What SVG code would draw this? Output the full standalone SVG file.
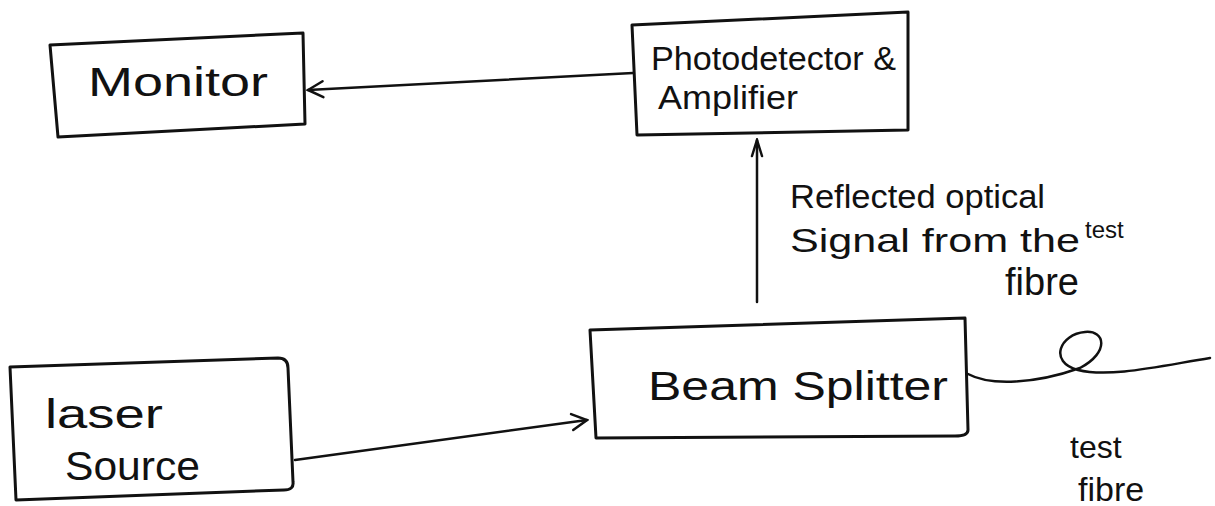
<svg xmlns="http://www.w3.org/2000/svg" width="1215" height="506" viewBox="0 0 1215 506">
<style>
.box{fill:none;stroke:#111;stroke-width:3;stroke-linejoin:round}
.ln{fill:none;stroke:#111;stroke-width:2.5;stroke-linecap:round}
.t{font-family:"Liberation Sans",Arial,sans-serif;fill:#111;font-size:40px}
.s{font-family:"Liberation Sans",Arial,sans-serif;fill:#111;font-size:34px}
</style>
<defs>
<marker id="ah" viewBox="0 0 20 20" refX="18" refY="10" markerWidth="20" markerHeight="20" markerUnits="userSpaceOnUse" orient="auto">
<path d="M3,2 L18,10 L3,18" fill="none" stroke="#111" stroke-width="2.5" stroke-linecap="round"/>
</marker>
<marker id="ahn" viewBox="0 0 20 20" refX="18" refY="10" markerWidth="20" markerHeight="20" markerUnits="userSpaceOnUse" orient="auto">
<path d="M2,5 L18,10 L2,15" fill="none" stroke="#111" stroke-width="2.5" stroke-linecap="round"/>
</marker>
</defs>
<rect width="1215" height="506" fill="#fff"/>
<g id="monitor">
<path class="box" d="M50,45 L303,33 L305,124 L58,137 Z"/>
<text class="t" x="88" y="96" textLength="180" lengthAdjust="spacingAndGlyphs">Monitor</text>
</g>
<g id="photodetector">
<path class="box" d="M632,25 L908,12 L908,130 L637,135 Z"/>
<text class="s" x="651" y="70" textLength="245" lengthAdjust="spacingAndGlyphs">Photodetector &amp;</text>
<text class="s" x="658" y="109" textLength="140" lengthAdjust="spacingAndGlyphs">Amplifier</text>
</g>
<g id="beamsplitter">
<path class="box" d="M590,330 L965,318 L968,430 Q968,436 955,436 L596,438 Z"/>
<text class="t" x="648" y="400" textLength="300" lengthAdjust="spacingAndGlyphs">Beam Splitter</text>
</g>
<g id="laser">
<path class="box" d="M10,367 L278,358 Q288,358 288,368 L293,482 Q294,490 284,490 L16,500 Z"/>
<text class="t" x="45" y="428" textLength="118" lengthAdjust="spacingAndGlyphs">laser</text>
<text class="t" x="65" y="480" textLength="135" lengthAdjust="spacingAndGlyphs">Source</text>
</g>
<g id="connectors">
<path class="ln" d="M633,73 L308,90" marker-end="url(#ah)"/>
<path class="ln" d="M295,460 L587,420" marker-end="url(#ah)"/>
<path class="ln" d="M757,302 L757,140" marker-end="url(#ahn)"/>
<path class="ln" d="M968,374 C990,386 1035,384 1080,368 C1110,352 1105,330 1085,332 C1060,334 1048,362 1078,370 C1110,378 1160,366 1210,358"/>
</g>
<g id="labels">
<text class="s" x="790" y="208" textLength="255" lengthAdjust="spacingAndGlyphs">Reflected optical</text>
<text class="s" x="790" y="252" textLength="290" lengthAdjust="spacingAndGlyphs">Signal from the</text>
<text x="1085" y="238" font-family="Liberation Sans,Arial,sans-serif" font-size="24" fill="#111">test</text>
<text x="1005" y="295" font-family="Liberation Sans,Arial,sans-serif" font-size="38" fill="#111">fibre</text>
<text x="1070" y="458" font-family="Liberation Sans,Arial,sans-serif" font-size="32" fill="#111">test</text>
<text x="1078" y="501" font-family="Liberation Sans,Arial,sans-serif" font-size="34" fill="#111">fibre</text>
</g>
</svg>
